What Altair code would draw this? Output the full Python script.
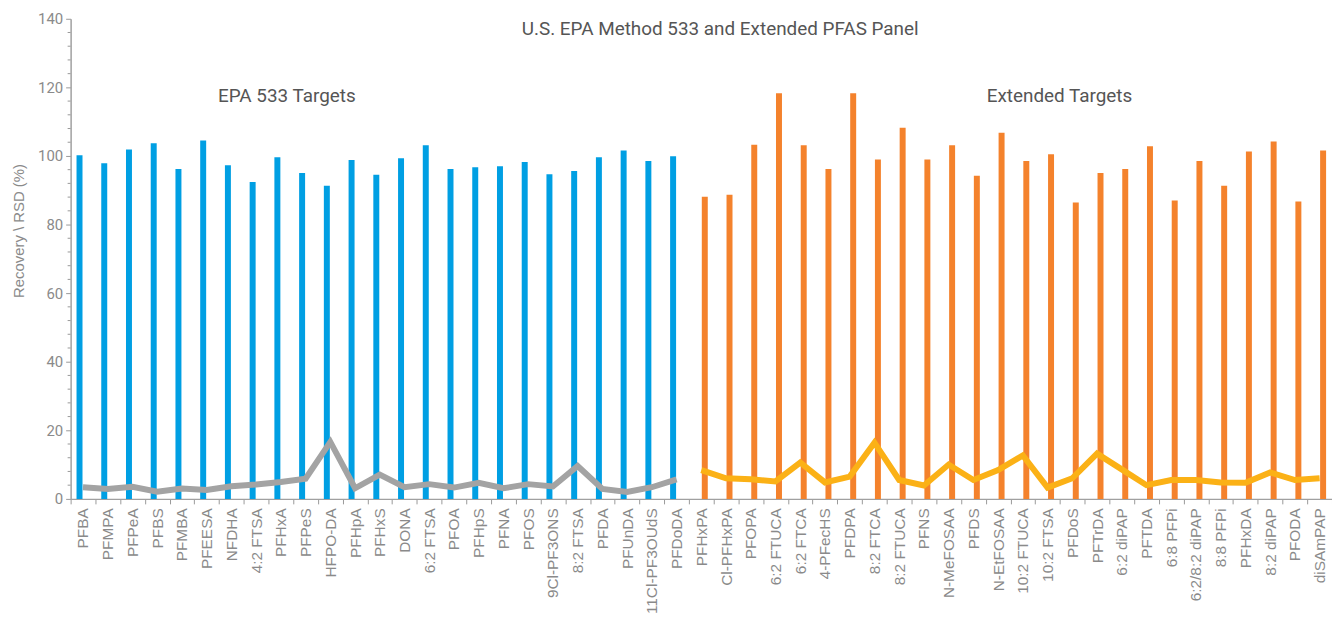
import altair as alt
import pandas as pd

epa_names = ["PFBA", "PFMPA", "PFPeA", "PFBS", "PFMBA", "PFEESA", "NFDHA", "4:2 FTSA",
             "PFHxA", "PFPeS", "HFPO-DA", "PFHpA", "PFHxS", "DONA", "6:2 FTSA", "PFOA",
             "PFHpS", "PFNA", "PFOS", "9Cl-PF3ONS", "8:2 FTSA", "PFDA", "PFUnDA",
             "11Cl-PF3OUdS", "PFDoDA"]
epa_recovery = [100.2, 97.9, 101.9, 103.7, 96.2, 104.5, 97.3, 92.4, 99.6, 95.0, 91.3, 98.8,
                94.5, 99.3, 103.1, 96.2, 96.7, 97.0, 98.2, 94.7, 95.6, 99.6, 101.6, 98.5, 99.9]
epa_rsd = [3.4, 2.9, 3.5, 2.1, 3.0, 2.6, 3.7, 4.2, 4.9, 5.9, 16.6, 3.1, 7.1, 3.4, 4.3, 3.3,
           4.7, 3.1, 4.3, 3.6, 9.6, 2.9, 2.0, 3.4, 5.7]

ext_names = ["PFHxPA", "Cl-PFHxPA", "PFOPA", "6:2 FTUCA", "6:2 FTCA", "4-PFecHS", "PFDPA",
             "8:2 FTCA", "8:2 FTUCA", "PFNS", "N-MeFOSAA", "PFDS", "N-EtFOSAA", "10:2 FTUCA",
             "10:2 FTSA", "PFDoS", "PFTrDA", "6:2 diPAP", "PFTDA", "6:8 PFPi", "6:2/8:2 diPAP",
             "8:8 PFPi", "PFHxDA", "8:2 diPAP", "PFODA", "diSAmPAP"]
ext_recovery = [88.1, 88.7, 103.3, 118.3, 103.1, 96.2, 118.3, 99.0, 108.2, 99.0, 103.1, 94.2,
                106.8, 98.5, 100.5, 86.4, 95.0, 96.2, 102.8, 87.0, 98.5, 91.3, 101.3, 104.2,
                86.7, 101.6]
ext_rsd = [8.4, 6.0, 5.7, 5.1, 10.6, 4.8, 6.5, 16.4, 5.5, 3.9, 10.0, 5.5, 8.4, 12.7, 3.3, 6.0,
           13.2, 8.6, 4.0, 5.5, 5.5, 4.8, 4.7, 7.7, 5.5, 6.0]

groups = ["EPA 533 Targets", "Extended Targets"]
bar_colors = ["#009FE3", "#F4822C"]
line_colors = ["#A3A3A3", "#FBB116"]
annot_at = ["PFHxA", "10:2 FTSA"]
annot_y = [117.4, 117.4]
annot_dx = [6, 12]
major_ticks = list(range(0, 141, 20))
minor_ticks = [v for v in range(0, 141, 4) if v % 20 != 0]

names = epa_names + ext_names
df = pd.DataFrame({
    "compound": names,
    "recovery": epa_recovery + ext_recovery,
    "rsd": epa_rsd + ext_rsd,
    "group": [groups[0]] * len(epa_names) + [groups[1]] * len(ext_names),
})

x_enc = alt.X(
    "compound:N", sort=names, title=None,
    scale=alt.Scale(paddingInner=0, paddingOuter=0),
    axis=alt.Axis(labelAngle=-90, labelAlign="right", labelBaseline="middle",
                  labelFont="Liberation Sans", labelFontSize=15.5, labelColor="#8A8A8A",
                  labelPadding=4, tickBand="extent", ticks=True, tickSize=5, tickWidth=1,
                  tickColor="#999999", domainColor="#A0A0A0", domainWidth=1.5,
                  labelOverlap=False, labelBound=False),
)
y_scale = alt.Scale(domain=[0, 140], nice=False)
y_axis = alt.Axis(
    title="Recovery \\ RSD (%)", titleFont="Liberation Sans", titleFontSize=15,
    titleFontWeight="normal", titleColor="#8A8A8A", titleAngle=-90,
    titleBaseline="middle", titleAlign="center", titleX=-52, titleY=213,
    values=major_ticks, labelOverlap=False,
    labelFont="Roboto", labelFontSize=15, labelColor="#8A8A8A", labelPadding=3,
    ticks=True, tickWidth=1, tickSize=5,
    tickColor="#999999", domainColor="#A0A0A0", domainWidth=1.5, grid=False,
)

bars = alt.Chart(df).mark_bar().encode(
    x=x_enc,
    xOffset=alt.XOffset("group:N", sort=groups,
                        scale=alt.Scale(domain=groups, paddingInner=0.14, paddingOuter=0.85)),
    y=alt.Y("recovery:Q", scale=y_scale, axis=y_axis),
    color=alt.Color("group:N", scale=alt.Scale(domain=groups, range=bar_colors), legend=None),
)

lines = alt.Chart(df).mark_line(strokeWidth=6, strokeJoin="miter").encode(
    x=alt.X("compound:N", sort=names),
    y=alt.Y("rsd:Q", scale=y_scale),
    detail="group:N",
    stroke=alt.Stroke("group:N", scale=alt.Scale(domain=groups, range=line_colors), legend=None),
)

minor = alt.Chart(pd.DataFrame({"v": minor_ticks})).mark_rule(
    color="#999999", strokeWidth=1).encode(
    y=alt.Y("v:Q", scale=y_scale),
    x=alt.value(-3), x2=alt.value(0),
)

text_layers = []
for name, yv, lab, dx in zip(annot_at, annot_y, groups, annot_dx):
    t = alt.Chart(pd.DataFrame({"compound": [name], "y": [yv], "label": [lab]})).mark_text(
        font="Roboto", fontSize=19, color="#555555", dx=dx).encode(
        x=alt.X("compound:N", sort=names),
        y=alt.Y("y:Q", scale=y_scale),
        text="label:N",
    )
    text_layers.append(t)

chart = alt.layer(bars, lines, minor, *text_layers).resolve_scale(color="independent").properties(
    width=1269, height=483,
    padding={"left": 63, "top": 9, "right": 0, "bottom": 119},
    autosize=alt.AutoSizeParams(type="none"),
    title=alt.TitleParams("U.S. EPA Method 533 and Extended PFAS Panel", anchor="middle",
                          orient="top", baseline="middle", offset=-36, dx=19,
                          font="Roboto", fontSize=19, fontWeight="normal", color="#555555"),
).configure_view(stroke=None, clip=False)

chart.save("out.html", embed_options={"renderer": "svg", "actions": False})
